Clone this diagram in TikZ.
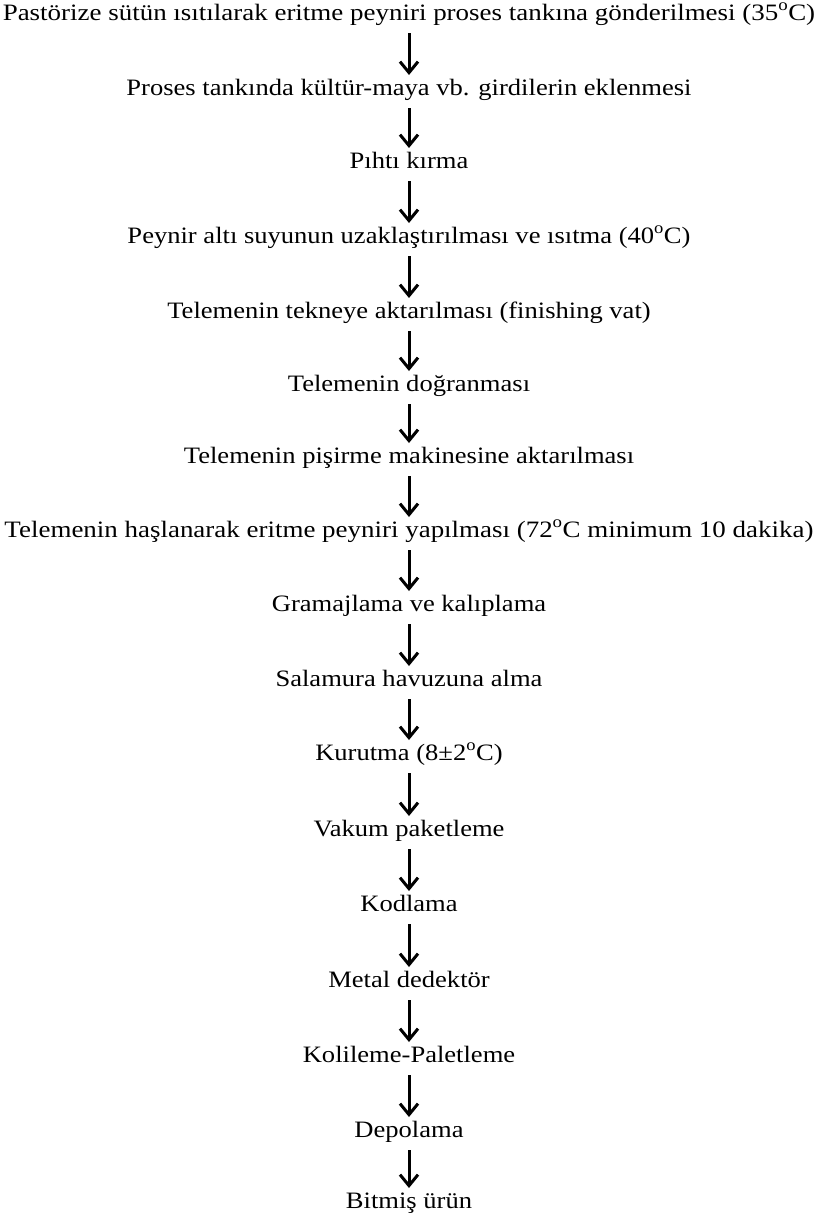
\documentclass[tikz,border=0pt]{standalone}
\usepackage{fontspec}
\setmainfont{Liberation Serif}
\usetikzlibrary{arrows.meta}
\tikzset{
  stage/.style={font=\fontsize{23.5}{28}\selectfont, inner sep=0pt, anchor=base, xscale=1.13, transform shape},
  widestage/.style={stage, xscale=1.015},
  flow/.style={line width=3pt, -{Straight Barb[length=11pt,width=18pt,line width=3pt]}}
}
\newcommand{\dg}{\textsuperscript{o}}
\begin{document}
\begin{tikzpicture}[x=1pt,y=-1pt]
\useasboundingbox (0,0) rectangle (826,1221);
\node[widestage] (n1)  at (409,20)   {Pastörize sütün ısıtılarak eritme peyniri proses tankına gönderilmesi (35\dg C)};
\node[stage] (n2)  at (409,95)   {Proses tankında kültür-maya vb. girdilerin eklenmesi};
\node[stage] (n3)  at (409,168)  {Pıhtı kırma};
\node[stage] (n4)  at (409,243)  {Peynir altı suyunun uzaklaştırılması ve ısıtma (40\dg C)};
\node[stage] (n5)  at (409,318)  {Telemenin tekneye aktarılması (finishing vat)};
\node[stage] (n6)  at (409,391)  {Telemenin doğranması};
\node[stage] (n7)  at (409,463)  {Telemenin pişirme makinesine aktarılması};
\node[widestage] (n8)  at (409,537)  {Telemenin haşlanarak eritme peyniri yapılması (72\dg C minimum 10 dakika)};
\node[stage] (n9)  at (409,611)  {Gramajlama ve kalıplama};
\node[stage] (n10) at (409,686)  {Salamura havuzuna alma};
\node[stage] (n11) at (409,760)  {Kurutma (8±2\dg C)};
\node[stage] (n12) at (409,836)  {Vakum paketleme};
\node[stage] (n13) at (409,911)  {Kodlama};
\node[stage] (n14) at (409,987)  {Metal dedektör};
\node[stage] (n15) at (409,1062) {Kolileme-Paletleme};
\node[stage] (n16) at (409,1137) {Depolama};
\node[stage] (n17) at (409,1208) {Bitmiş ürün};
\foreach \a/\b in {n1/n2,n2/n3,n3/n4,n4/n5,n5/n6,n6/n7,n7/n8,n8/n9,n9/n10,n10/n11,n11/n12,n12/n13,n13/n14,n14/n15,n15/n16,n16/n17}
  \draw[flow] ([yshift=-13pt]\a.base) -- ([yshift=20pt]\b.base);
\end{tikzpicture}
\end{document}
